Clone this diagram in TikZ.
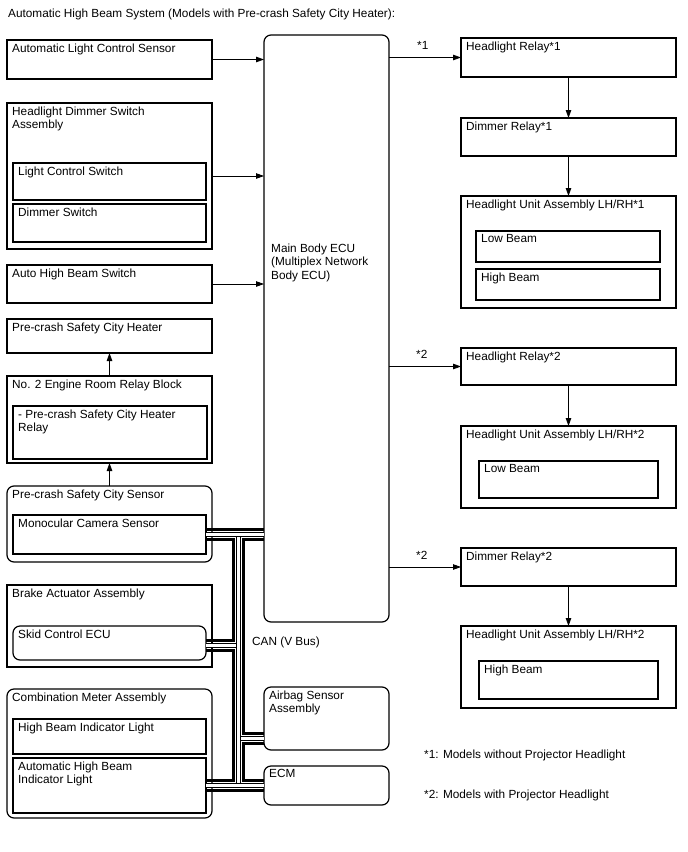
\documentclass[tikz,border=0pt]{standalone}
\usepackage{fontspec}
\setmainfont{Liberation Sans}
\usetikzlibrary{arrows.meta,calc,positioning}
\newcommand{\dgfont}{\fontsize{11.8}{13.5}\selectfont}
\newcommand{\cw}{5.2}
\tikzset{
  % Kaesten
  boxline/.style  = {draw, line width=1.2pt, anchor=north west, inner sep=0pt, outer sep=0pt},
  boxround/.style = {boxline, rounded corners=7pt},
  lab/.style      = {anchor=north west, inner sep=0pt, align=left, font=\dgfont},
  labb/.style     = {anchor=base west, inner sep=0pt, font=\dgfont},
  % Pfeile
  arrline/.style  = {line width=0.8pt, -{Triangle[length=8pt,width=5.5pt]}},
  % CAN-Leitungen
  canwire/.style  = {line width=3.2pt, line join=miter},
  canpair/.style  = {line width=0.9pt, double=white, double distance=2.4pt},
}
% Kasten mit Namen und Text oben links
\newcommand{\blkbox}[7][boxline]{%
  \node[#1, minimum width=#5pt, minimum height=#6pt] (#2) at (#3,#4) {};
  \node[lab] (#2-l) at ($(#2.north west)+(5,3.4)$) {#7};}

\begin{document}
\begin{tikzpicture}[x=1pt, y=-1pt]
  \useasboundingbox (0,0) rectangle (688,852);
  \node[labb] (title) at (8,17) {Automatic High Beam System (Models with Pre-crash Safety City Heater):};

  % linke Spalte
  \blkbox{alcs}{7}{40}{205}{39}{Automatic Light Control Sensor}
  \blkbox{hdsa}{7}{103}{205}{146}{Headlight Dimmer Switch\\Assembly}
  \blkbox{lcs}{13}{163}{193}{37}{Light Control Switch}
  \blkbox{dsw}{13}{204}{193}{38}{Dimmer Switch}
  \blkbox{ahbs}{7}{265}{205}{38}{Auto High Beam Switch}
  \blkbox{heat}{7}{319}{205}{34}{Pre-crash Safety City Heater}
  \blkbox{errb}{7}{376}{205}{87}{No. 2 Engine Room Relay Block}
  \blkbox{hrel}{13}{406}{194}{53}{- Pre-crash Safety City Heater\\Relay}
  \blkbox[boxround]{pcs}{7}{486}{205}{76}{Pre-crash Safety City Sensor}
  \blkbox{mono}{13}{515}{193}{39}{Monocular Camera Sensor}
  \blkbox{bact}{7}{585}{205}{82}{Brake Actuator Assembly}
  \blkbox[boxround]{skid}{13}{626}{193}{34}{Skid Control ECU}
  \blkbox[boxround]{cmet}{7}{689}{205}{129}{Combination Meter Assembly}
  \blkbox{hbil}{13}{719}{193}{35}{High Beam Indicator Light}
  \blkbox{ahbil}{13}{758}{193}{55}{Automatic High Beam\\Indicator Light}

  % Mitte
  \node[boxround, minimum width=125pt, minimum height=587pt] (main) at (264,35) {};
  \node[lab] (main-l) at (271,243.4) {Main Body ECU\\(Multiplex Network\\Body ECU)};
  \blkbox[boxround]{airbag}{264}{687}{125}{63}{Airbag Sensor\\Assembly}
  \blkbox[boxround]{ecm}{264}{766}{125}{39}{ECM}

  % rechte Spalte
  \blkbox{hlr1}{461}{38}{215}{39}{Headlight Relay*1}
  \blkbox{dr1}{461}{118}{215}{38}{Dimmer Relay*1}
  \blkbox{hua1}{461}{196}{215}{112}{Headlight Unit Assembly LH/RH*1}
  \blkbox{lb1}{476}{231}{184}{31}{Low Beam}
  \blkbox{hb1}{476}{269}{184}{31}{High Beam}
  \blkbox{hlr2}{461}{348}{215}{37}{Headlight Relay*2}
  \blkbox{hua2}{461}{426}{215}{82}{Headlight Unit Assembly LH/RH*2}
  \blkbox{lb2}{479}{461}{179}{37}{Low Beam}
  \blkbox{dr2}{461}{548}{215}{38}{Dimmer Relay*2}
  \blkbox{hua3}{461}{626}{215}{82}{Headlight Unit Assembly LH/RH*2}
  \blkbox{hb3}{479}{661}{179}{38}{High Beam}

  % Pfeile
  \draw[arrline] (alcs.east) -- (alcs.east -| main.west);
  \draw[arrline] (hdsa.east) -- (hdsa.east -| main.west);
  \draw[arrline] (ahbs.east) -- (ahbs.east -| main.west);
  \draw[arrline] (errb.north) -- (heat.south);
  \draw[arrline] (pcs.north) -- (errb.south);
  \draw[arrline] (hlr1.west -| main.east) -- (hlr1.west);
  \node[labb] (s1) at ($(hlr1.west -| main.east)+(28,-8)$) {*1};
  \draw[arrline] (hlr2.west -| main.east) -- (hlr2.west);
  \node[labb] (s2a) at ($(hlr2.west -| main.east)+(27,-8)$) {*2};
  \draw[arrline] (dr2.west -| main.east) -- (dr2.west);
  \node[labb] (s2b) at ($(dr2.west -| main.east)+(27,-8)$) {*2};
  \draw[arrline] (hlr1.south) -- (dr1.north);
  \draw[arrline] (dr1.south) -- (hua1.north);
  \draw[arrline] (hlr2.south) -- (hua2.north);
  \draw[arrline] (dr2.south) -- (hua3.north);

  % CAN (V Bus)
  \coordinate (trunk) at (238.5,0);
  \coordinate (cS) at ($(skid.east)+(0,2.5)$);
  \coordinate (cA) at ($(airbag.west)+(0,20)$);
  \coordinate (cB) at (ahbil.east);
  \draw[canwire] ($(mono.east)+(0,-\cw)$) -- ($(mono.east -| main.west)+(0,-\cw)$);
  \draw[canwire] ($(mono.east)+(0,\cw)$) -| ($(cS -| trunk)+(-\cw,-\cw)$) -- ($(cS)+(0,-\cw)$);
  \draw[canwire] ($(mono.east -| main.west)+(0,\cw)$) -| ($(cA -| trunk)+(\cw,-\cw)$) -- ($(cA)+(0,-\cw)$);
  \draw[canwire] ($(cS)+(0,\cw)$) -| ($(cB -| trunk)+(-\cw,-\cw)$) -- ($(cB)+(0,-\cw)$);
  \draw[canwire] ($(cA)+(0,\cw)$) -| ($(cB -| trunk)+(\cw,-\cw)$) -- ($(cB -| ecm.west)+(0,-\cw)$);
  \draw[canwire] ($(cB)+(0,\cw)$) -- ($(cB -| ecm.west)+(0,\cw)$);
  \draw[canpair] (cS) -- (cS -| trunk);
  \draw[canpair] (cA) -- (cA -| trunk);
  \draw[canpair] (mono.east -| trunk) -- (cB -| trunk);
  \draw[canpair] (mono.east) -- (mono.east -| main.west);
  \draw[canpair] (cB) -- (cB -| ecm.west);
  \node[labb] (canlab) at (252,645.5) {CAN (V Bus)};

  % Fussnoten
  \node[labb] (fn1) at (424,758) {*1: Models without Projector Headlight};
  \node[labb] (fn2) at (424,798) {*2: Models with Projector Headlight};
\end{tikzpicture}
\end{document}
